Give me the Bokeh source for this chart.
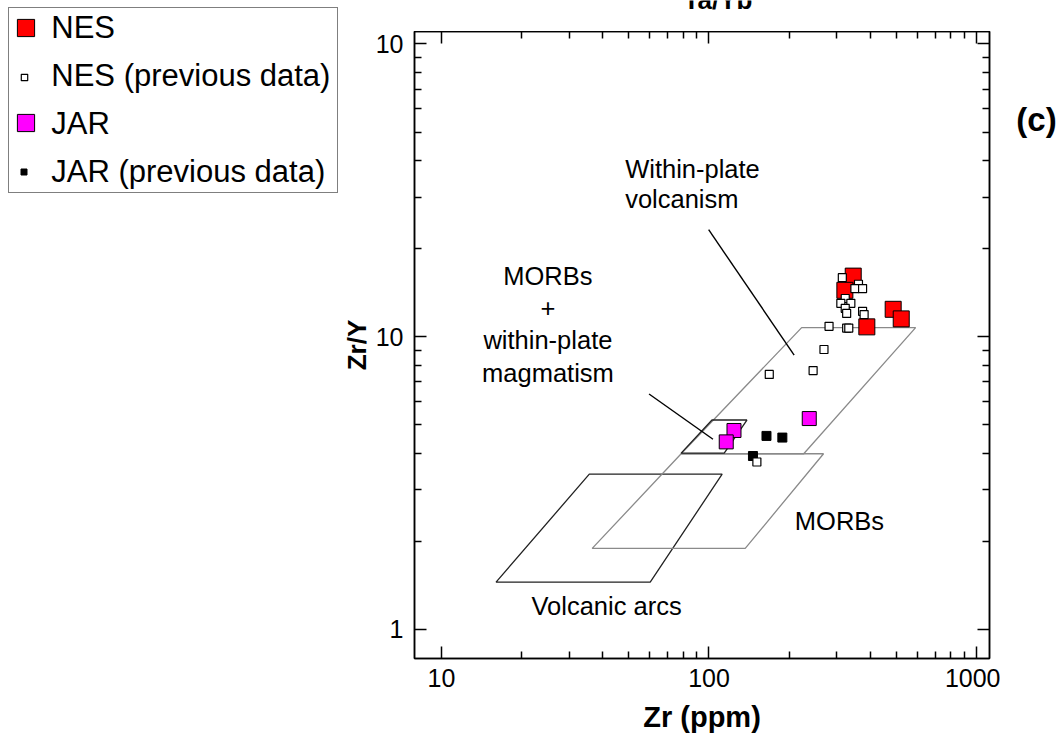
from bokeh.plotting import figure
from bokeh.models import LogAxis, FixedTicker, Legend, LegendItem, Label, Range1d
from bokeh.layouts import row, column
from bokeh.core.properties import value
from bokeh.embed import file_html
from bokeh.resources import INLINE

FONT = "Liberation Sans"

# ---------------- data ----------------
nes_zr = [346, 322, 389, 488, 523]
nes_zry = [16.1, 14.4, 10.8, 12.4, 11.5]

nes_prev_zr = [315, 362, 351, 375, 323, 311, 339, 323, 327, 375, 380, 281, 327, 333, 269, 245, 168, 151]
nes_prev_zry = [15.9, 15.1, 14.6, 14.6, 13.5, 13.0, 13.0, 12.5, 12.0, 12.2, 11.9, 10.85, 10.7, 10.7, 9.04, 7.66, 7.43, 3.73]

jar_zr = [124, 116, 237]
jar_zry = [4.78, 4.37, 5.25]

jar_prev_zr = [164, 188, 146]
jar_prev_zry = [4.58, 4.52, 3.91]

# discrimination fields
arc_zr = [16.0, 60.3, 112.0, 35.7]
arc_zry = [1.45, 1.45, 3.39, 3.39]
morb_zr = [36.6, 136.6, 268.0, 78.7]
morb_zry = [1.89, 1.89, 3.98, 3.98]
wpb_zr = [78.7, 222.0, 592.0, 226.0]
wpb_zry = [3.98, 10.74, 10.74, 3.98]
mwp_zr = [78.7, 102.6, 138.6, 114.0]
mwp_zry = [4.0, 5.19, 5.19, 4.0]

lead1_zr = [99.7, 208.1]
lead1_zry = [23.2, 8.65]
lead2_zr = [59.7, 103.5]
lead2_zry = [6.37, 4.46]

wp_label = ["Within-plate", "volcanism"]
wp_anchor = (48.6, 37.5)
mw_label = ["MORBs", "+", "within-plate", "magmatism"]
mw_anchor = (25.0, 16.16)
morb_label = "MORBs"
morb_anchor = (209.4, 2.343)
arc_label = "Volcanic arcs"
arc_anchor = (21.7, 1.2)

legend_labels = ["NES", "NES (previous data)", "JAR", "JAR (previous data)"]

x_major = [10, 100, 1000]
x_tick_labels = ["10", "100", "1000"]
x_minor = [m * d for d in (10, 100) for m in range(2, 10)]
y_major = [1, 10, 100]
y_tick_labels = ["1", "10", "10"]
y_minor = [m * d for d in (1, 10) for m in range(2, 10)]


def bare_fig(w, h, **kw):
    f = figure(width=w, height=h, output_backend="svg", toolbar_location=None, title=None,
               x_axis_location=None, y_axis_location=None, min_border=0, **kw)
    f.grid.visible = False
    f.outline_line_color = None
    f.background_fill_color = "white"
    f.border_fill_color = "white"
    return f


TOP_H = 31
MAIN_H = 738 - TOP_H
L_W, L_H = 338, 738

# ---------------- main plot ----------------
p = figure(width=1000 - L_W, height=MAIN_H, x_axis_type="log", y_axis_type="log", title=None,
           x_range=Range1d(7.93, 1118), y_range=Range1d(0.795, 110.3),
           output_backend="svg", toolbar_location=None,
           min_border_left=413 - L_W, min_border_right=11, min_border_top=0, min_border_bottom=80)
p.grid.visible = False
p.outline_line_color = "black"
p.outline_line_width = 1.5
p.background_fill_color = "white"
p.border_fill_color = "white"


def style_axis(ax, ticks, minor, labels):
    ax.ticker = FixedTicker(ticks=ticks, minor_ticks=minor)
    ax.major_tick_in = 12
    ax.major_tick_out = 0
    ax.minor_tick_in = 7
    ax.minor_tick_out = 0
    ax.axis_line_width = 1.5
    ax.major_tick_line_width = 1.5
    ax.minor_tick_line_width = 1.5
    ax.axis_line_color = "black"
    ax.major_tick_line_color = "black"
    ax.minor_tick_line_color = "black"
    ax.major_label_overrides = dict(zip(ticks, labels))
    ax.major_label_text_font = FONT
    ax.major_label_text_font_size = "25px"
    ax.major_label_text_color = "black"
    ax.axis_label_text_font = FONT
    ax.axis_label_text_font_style = "bold"
    ax.axis_label_text_font_size = "29px"
    ax.axis_label_text_color = "black"


xa = p.xaxis[0]
style_axis(xa, x_major, x_minor, x_tick_labels)
xa.major_label_standoff = 10
xa.axis_label = "Zr (ppm)"
xa.axis_label_standoff = 11

ya = p.yaxis[0]
style_axis(ya, y_major, y_minor, y_tick_labels)
ya.major_label_standoff = 11
ya.axis_label = "Zr/Y"
ya.axis_label_text_font_size = "26px"
ya.axis_label_standoff = 1

top = LogAxis()
style_axis(top, x_major, x_minor, [""] * 3)
top.major_label_text_font_size = "0px"
top.major_label_standoff = 0
p.add_layout(top, "above")

right = LogAxis()
style_axis(right, y_major, y_minor, [""] * 3)
right.major_label_text_font_size = "0px"
right.major_label_standoff = 0
p.add_layout(right, "right")

# fields
p.patch(arc_zr, arc_zry, fill_color=None, line_color="#222222", line_width=1.3)
p.patch(morb_zr, morb_zry, fill_color=None, line_color="#8a8a8a", line_width=1.3)
p.patch(wpb_zr, wpb_zry, fill_color=None, line_color="#8a8a8a", line_width=1.3)
p.patch(mwp_zr, mwp_zry, fill_color=None, line_color="#222222", line_width=1.3)

p.line(lead1_zr, lead1_zry, line_color="black", line_width=1.4)
p.line(lead2_zr, lead2_zry, line_color="black", line_width=1.4)

txt = dict(text_font=value(FONT), text_font_size="25.5px", text_color="black",
           text_baseline="alphabetic")
p.text(x=[wp_anchor[0]] * len(wp_label), y=[wp_anchor[1]] * len(wp_label), text=wp_label,
       y_offset=[30 * i for i in range(len(wp_label))], text_align="left", **txt)
p.text(x=[mw_anchor[0]] * len(mw_label), y=[mw_anchor[1]] * len(mw_label), text=mw_label,
       y_offset=[32.4 * i for i in range(len(mw_label))], text_align="center", **txt)
p.text(x=[morb_anchor[0]], y=[morb_anchor[1]], text=[morb_label], text_align="left", **txt)
p.text(x=[arc_anchor[0]], y=[arc_anchor[1]], text=[arc_label], text_align="left", **txt)

# data points
nes_style = dict(marker="square", fill_color="#ff0000", line_color="black", line_width=1)
jar_style = dict(marker="square", fill_color="#ff00ff", line_color="black", line_width=1)
jarp_style = dict(marker="square", fill_color="black", line_color="black", line_width=1)
nesp_style = dict(marker="square", fill_color="white", line_color="black", line_width=1.2)

p.scatter(nes_zr, nes_zry, size=16, **nes_style)
p.scatter(jar_zr, jar_zry, size=14, **jar_style)
p.scatter(jar_prev_zr, jar_prev_zry, size=9, **jarp_style)
p.scatter(nes_prev_zr, nes_prev_zry, size=8, **nesp_style)

# ---------------- legend panel (left) ----------------
pl = bare_fig(L_W, L_H, x_range=Range1d(0, 1), y_range=Range1d(0, 1))
# same series as the plot; their points fall outside this panel's range, so only the keys show
l_nes = pl.scatter(nes_zr, nes_zry, size=16, **nes_style)
l_nesp = pl.scatter(nes_prev_zr, nes_prev_zry, size=8, **nesp_style)
l_jar = pl.scatter(jar_zr, jar_zry, size=14, **jar_style)
l_jarp = pl.scatter(jar_prev_zr, jar_prev_zry, size=9, **jarp_style)
ghost = [pl.scatter(nes_zr, nes_zry, marker="square", fill_alpha=0, line_alpha=0) for _ in legend_labels]

legA = Legend(items=[LegendItem(label=l, renderers=[g]) for l, g in zip(legend_labels, ghost)],
              location=(8.3, L_H - 192.7),
              label_text_font=FONT, label_text_font_size="31px", label_text_color="black",
              glyph_width=30, glyph_height=30, label_standoff=10, padding=2, spacing=12,
              label_height=34, label_width=284, margin=0,
              border_line_color="black", border_line_width=1.2,
              background_fill_color="white", background_fill_alpha=1)
pl.add_layout(legA)

key_specs = [(l_nes, 25.5, 27.0, 43), (l_nesp, 23.5, 77.0, 16),
             (l_jar, 25.5, 122.5, 43), (l_jarp, 23.5, 171.0, 15)]
for r, cx, cy, g in key_specs:
    lg = Legend(items=[LegendItem(label=" ", renderers=[r])],
                location=(cx - g / 2, L_H - cy - g / 2),
                glyph_width=g, glyph_height=g, padding=0, margin=0, spacing=0,
                label_text_font_size="1px", label_height=g, label_width=0, label_standoff=0,
                border_line_color=None, background_fill_alpha=0)
    pl.add_layout(lg)

# ---------------- title strip (top) ----------------
pt = bare_fig(1061 - L_W, TOP_H, x_range=Range1d(0, 1), y_range=Range1d(0, 1))
pt.add_layout(Label(x=717.5 - L_W, y=32, x_units="screen", y_units="screen", text="Ta/Yb",
                    text_font=FONT, text_font_style="bold", text_font_size="26px",
                    text_align="center", text_baseline="alphabetic", text_color="black"))

# ---------------- panel tag (right) ----------------
pr = bare_fig(61, MAIN_H, x_range=Range1d(0, 1), y_range=Range1d(0, 1))
pr.add_layout(Label(x=36, y=658 - 119, x_units="screen", y_units="screen", text="(c)",
                    text_font=FONT, text_font_style="bold", text_font_size="33px",
                    text_align="center", text_baseline="middle", text_color="black"))

layout = row(pl, column(pt, row(p, pr, spacing=0), spacing=0), spacing=0)
open("out.html", "w").write(file_html(layout, INLINE))
